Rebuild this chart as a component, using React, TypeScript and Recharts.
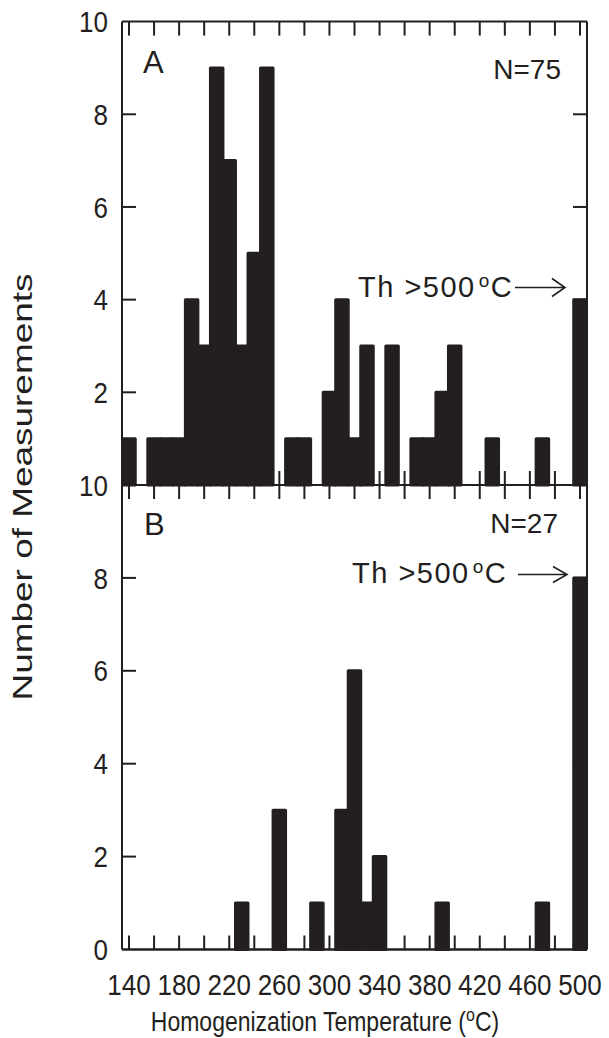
import { BarChart, Bar, XAxis, YAxis, ReferenceLine } from 'recharts'

// 10 degree bins, labelled by bin centre
const bins = [
  140, 150, 160, 170, 180, 190, 200, 210, 220, 230, 240, 250, 260, 270, 280, 290, 300, 310, 320,
  330, 340, 350, 360, 370, 380, 390, 400, 410, 420, 430, 440, 450, 460, 470, 480, 490, 500,
]

const countsA = [
  1, 0, 1, 1, 1, 4, 3, 9, 7, 3, 5, 9, 0, 1, 1, 0, 2, 4, 1,
  3, 0, 3, 0, 1, 1, 2, 3, 0, 0, 1, 0, 0, 0, 1, 0, 0, 4,
]

const countsB = [
  0, 0, 0, 0, 0, 0, 0, 0, 0, 1, 0, 0, 3, 0, 0, 1, 0, 3, 6,
  1, 2, 0, 0, 0, 0, 1, 0, 0, 0, 0, 0, 0, 0, 1, 0, 0, 8,
]

const xTicks = [140, 160, 180, 200, 220, 240, 260, 280, 300, 320, 340, 360, 380, 400, 420, 440, 460, 480, 500]
const xLabels = [140, 180, 220, 260, 300, 340, 380, 420, 460, 500]
const yTicks = [0, 2, 4, 6, 8, 10]
const yInner = [2, 4, 6, 8]
const X_MIN = 134.4
const X_MAX = 505.6
const Y_MAX = 10

const ink = '#231f20'
const font = '"Liberation Sans", Arial, Helvetica, sans-serif'

const W = 609
const H = 1038
const PLOT_LEFT = 122
const PLOT_RIGHT = 587
const TICK = 14

// the original lettering is a bit taller than Liberation Sans
const stretch = 'scale(1 1.15)'

function XTick(props: any) {
  const { x, y, payload } = props
  if (!xLabels.includes(payload.value)) return null
  return (
    <text
      transform={`translate(${x} ${y}) ${stretch}`}
      textAnchor="middle"
      dy="0.71em"
      fill={ink}
      fontSize={26}
      fontFamily={font}
    >
      {payload.value}
    </text>
  )
}

function YTick(props: any) {
  const { y, payload, showZero } = props
  if (payload.value === 0 && !showZero) return null
  return (
    <text
      transform={`translate(108 ${y}) ${stretch}`}
      textAnchor="end"
      dy="0.355em"
      fill={ink}
      fontSize={26}
      fontFamily={font}
    >
      {payload.value}
    </text>
  )
}

interface PanelProps {
  counts: number[]
  plotTop: number
  plotBottom: number
  showXLabels: boolean
  showZero: boolean
}

function Panel({ counts, plotTop, plotBottom, showXLabels, showZero }: PanelProps) {
  const data = bins.map((t, i) => ({ t, n: counts[i] }))
  const bottomAxisHeight = showXLabels ? H - plotBottom : 0
  const line = { stroke: ink, strokeWidth: 2 }
  // inward tick length expressed in data units
  const tx = (TICK * (X_MAX - X_MIN)) / (PLOT_RIGHT - PLOT_LEFT)
  const ty = (TICK * Y_MAX) / (plotBottom - plotTop)
  const seg = (x1: number, y1: number, x2: number, y2: number, key: string) => (
    <ReferenceLine
      key={key}
      segment={[{ x: x1, y: y1 }, { x: x2, y: y2 }]}
      stroke={ink}
      strokeWidth={2}
      ifOverflow="visible"
    />
  )
  return (
    <div style={{ position: 'absolute', left: 0, top: 0 }}>
      <BarChart
        width={W}
        height={H}
        data={data}
        barGap={0}
        margin={{ top: plotTop, right: 0, bottom: H - plotBottom - bottomAxisHeight, left: 0 }}
      >
        <XAxis
          dataKey="t"
          type="number"
          domain={[X_MIN, X_MAX]}
          allowDataOverflow
          ticks={xTicks}
          hide={!showXLabels}
          height={bottomAxisHeight || 1}
          tickSize={0}
          tickMargin={24}
          tickLine={false}
          axisLine={line}
          tick={<XTick />}
        />
        <YAxis
          type="number"
          domain={[0, Y_MAX]}
          ticks={yTicks}
          width={PLOT_LEFT}
          tickSize={0}
          tickLine={false}
          axisLine={line}
          tick={<YTick showZero={showZero} />}
        />
        <YAxis
          yAxisId="right"
          orientation="right"
          type="number"
          domain={[0, Y_MAX]}
          width={W - PLOT_RIGHT}
          tickLine={false}
          axisLine={line}
          tick={false}
        />
        <Bar
          dataKey="n"
          fill={ink}
          stroke={ink}
          strokeWidth={3}
          strokeLinejoin="round"
          barSize={12.5}
          isAnimationActive={false}
        />
        {/* frame top / bottom */}
        <ReferenceLine y={Y_MAX} stroke={ink} strokeWidth={2} ifOverflow="visible" />
        <ReferenceLine y={0} stroke={ink} strokeWidth={2} ifOverflow="visible" />
        {/* inward ticks on all four sides */}
        {xTicks.map((v) => seg(v, Y_MAX, v, Y_MAX - ty, `t${v}`))}
        {xTicks.map((v) => seg(v, 0, v, ty, `b${v}`))}
        {yInner.map((v) => seg(X_MIN, v, X_MIN + tx, v, `l${v}`))}
        {yInner.map((v) => seg(X_MAX, v, X_MAX - tx, v, `r${v}`))}
      </BarChart>
    </div>
  )
}

function Annotations() {
  const txt = { fill: ink, fontFamily: font }
  const th = { fontSize: 29, letterSpacing: 1.5, ...txt }
  return (
    <svg
      width={W}
      height={H}
      style={{ position: 'absolute', left: 0, top: 0, pointerEvents: 'none' }}
    >
      {/* panel A */}
      <text x={143} y={73} fontSize={31} {...txt}>A</text>
      <text x={561} y={79} fontSize={28} textAnchor="end" {...txt}>N=75</text>
      <text x={358} y={297} {...th}>
        Th &gt;500<tspan fontSize={19} dx={3} dy={-10}>o</tspan>
        <tspan dy={10}>C</tspan>
      </text>
      <path d="M515 287.5H564M552 278.5L565 287.5L552 296.5" stroke={ink} strokeWidth={1.6} fill="none" />

      {/* panel B */}
      <text x={144} y={535} fontSize={31} {...txt}>B</text>
      <text x={558} y={533} fontSize={28} textAnchor="end" {...txt}>N=27</text>
      <text x={352} y={583} {...th}>
        Th &gt;500<tspan fontSize={19} dx={3} dy={-10}>o</tspan>
        <tspan dy={10}>C</tspan>
      </text>
      <path d="M518 574.5H566M553 566.5L567 574.5L553 582.5" stroke={ink} strokeWidth={1.6} fill="none" />

      {/* axis titles */}
      <text
        transform="translate(32 487) rotate(-90) scale(1.32 1)"
        textAnchor="middle"
        fontSize={28}
        {...txt}
      >
        Number of Measurements
      </text>
      <text transform="translate(325 1031) scale(1 1.2)" textAnchor="middle" fontSize={23} {...txt}>
        Homogenization Temperature (<tspan fontSize={16} dy={-8}>o</tspan>
        <tspan dy={8}>C)</tspan>
      </text>
    </svg>
  )
}

export default function App() {
  return (
    <div style={{ position: 'absolute', left: 0, top: 0, width: W, height: H, background: '#fff' }}>
      <Panel counts={countsA} plotTop={21.6} plotBottom={485} showXLabels={false} showZero={false} />
      <Panel counts={countsB} plotTop={485} plotBottom={949.5} showXLabels showZero />
      <Annotations />
    </div>
  )
}
